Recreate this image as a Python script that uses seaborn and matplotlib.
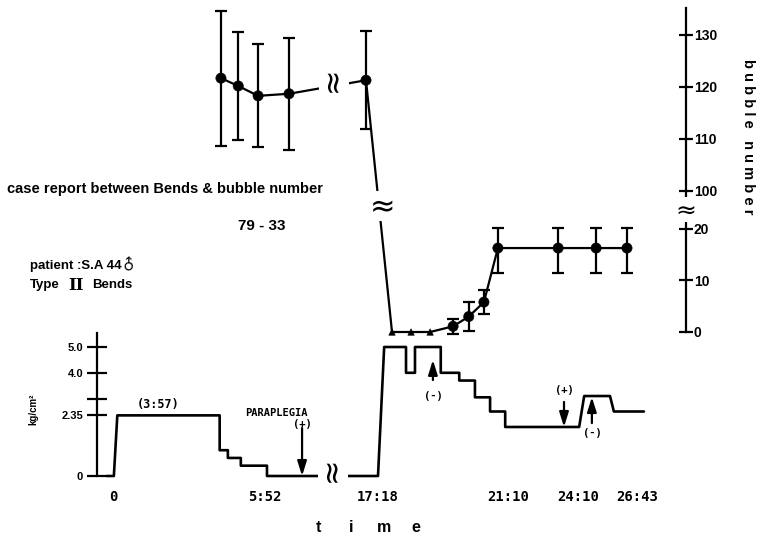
import numpy as np
import pandas as pd
import matplotlib
matplotlib.use('Agg')
from matplotlib import pyplot as plt
import seaborn as sns

W, H = 761, 543

# time in minutes after start of recompression
time_ticks = [0, 352, 1038, 1270, 1450, 1603]
time_labels = ['0', '5:52', '17:18', '21:10', '24:10', '26:43']
# the hand drawn time axis is uneven, keep where each tick sits (px)
time_px = [113, 265, 378, 508, 578, 637]

# chamber pressure (kg/cm2)
press_t = [-14, 2, 10, 247, 247, 266, 266, 296, 296, 364, 364, 1038, 1049, 1088, 1088,
           1104, 1104, 1150, 1150, 1183, 1183, 1211, 1211, 1238, 1238, 1265, 1265, 1453,
           1466, 1533, 1543, 1621]
press_v = [0, 0, 2.35, 2.35, 1.0, 1.0, 0.7, 0.7, 0.4, 0.4, 0, 0, 5.0, 5.0, 4.0,
           4.0, 5.0, 5.0, 4.0, 4.0, 3.7, 3.7, 3.05, 3.05, 2.5, 2.5, 1.9, 1.9,
           3.1, 3.1, 2.5, 2.5]
press_ticks = [0, 2.35, 3.0, 4.0, 5.0]
press_labels = ['0', '2.35', '', '4.0', '5.0']

# bubble number, mean and sd; 'none' = no bubbles (triangles)
bub_t = [250, 290, 336, 498, 965, 1063, 1097, 1131, 1172, 1200, 1227, 1252, 1399, 1497, 1577]
bub_v = [121.7, 120.2, 118.3, 118.7, 121.3, 0, 0, 0, 1.1, 3.0, 5.8, 16.3, 16.3, 16.3, 16.3]
bub_sd = [13.0, 10.3, 9.9, 10.8, 9.4, 0, 0, 0, 1.4, 2.9, 2.4, 4.9, 4.9, 4.9, 4.9]
bub_kind = ['mean'] * 5 + ['none'] * 3 + ['mean'] * 7
bubble_ticks = [0, 10, 20, 100, 110, 120, 130]
# broken bubble axis: value -> px from top
bub_anchor_v = [0, 20, 100, 130]
bub_anchor_px = [332, 229, 191, 35]

# symptoms and treatment marks on the pressure trace
arrow_t = [577, 1136, 1414, 1486]
arrow_from = [1.86, 3.72, 2.87, 2.05]
arrow_to = [0.0, 4.5, 1.9, 3.06]
sign_text = ['(+)', '(-)', '(+)', '(-)']
sign_v = [2.0, 3.1, 3.33, 1.67]


def piecewise(a, b):
    a = np.asarray(a, float)
    b = np.asarray(b, float)
    lo = (b[1] - b[0]) / (a[1] - a[0])
    hi = (b[-1] - b[-2]) / (a[-1] - a[-2])
    a = np.r_[a[0] - 1e5, a, a[-1] + 1e5]
    b = np.r_[b[0] - 1e5 * lo, b, b[-1] + 1e5 * hi]
    return (lambda x: np.interp(x, a, b)), (lambda y: np.interp(y, b, a))


t_fwd, t_inv = piecewise(time_ticks, time_px)
b_fwd, b_inv = piecewise(bub_anchor_v, H - np.array(bub_anchor_px))
P_SCALE = 25.8  # px per kg/cm2
P_ZERO = 476

sns.set_theme(style='ticks', rc={'axes.edgecolor': 'black', 'xtick.color': 'black',
                                 'ytick.color': 'black', 'text.color': 'black'})
plt.rcParams['font.family'] = ['Liberation Sans', 'DejaVu Sans']

fig = plt.figure(figsize=(W / 100, H / 100), dpi=100)
ax_p = fig.add_axes([0, 0, 1, 1])
ax_b = fig.add_axes([0, 0, 1, 1])
for ax in (ax_p, ax_b):
    ax.patch.set_alpha(0)
    for s in ax.spines.values():
        s.set_visible(False)

# pressure trace
sns.lineplot(x=press_t, y=press_v, sort=False, estimator=None, color='black',
             linewidth=1.9, ax=ax_p)
ax_p.set_xscale('function', functions=(t_fwd, t_inv))
ax_p.set_xlim(t_inv(0), t_inv(W))
ax_p.set_ylim(-(H - P_ZERO) / P_SCALE, P_ZERO / P_SCALE)
ax_p.set(xlabel='', ylabel='')
ax_p.set_xticks([])
sp = ax_p.spines['left']
sp.set_visible(True)
sp.set_position(('data', t_inv(97)))
sp.set_bounds(0, 5.54)
sp.set_linewidth(1.6)
ax_p.set_yticks(press_ticks, press_labels, fontweight='bold', fontsize=8)
ax_p.tick_params(axis='y', left=True, labelleft=True, direction='inout', length=14,
                 width=1.6, pad=3)

for t, lab in zip(time_ticks, time_labels):
    ax_p.text(t, -21 / P_SCALE, lab, ha='center', va='center', fontsize=10,
              fontweight='bold', family='DejaVu Sans Mono')

for t, a, b, s, sv in zip(arrow_t, arrow_from, arrow_to, sign_text, sign_v):
    ax_p.annotate('', xy=(t, b), xytext=(t, a),
                  arrowprops=dict(arrowstyle='-|>,head_length=0.8,head_width=0.25',
                                  color='black', lw=1.6, mutation_scale=11,
                                  shrinkA=0, shrinkB=0))
    ax_p.text(t, sv, s, ha='center', va='center', fontsize=7.5, fontweight='bold',
              family='DejaVu Sans Mono')

ax_p.text(104, 2.79, '(3:57)', ha='center', va='center', fontsize=8.5,
          fontweight='bold', family='DejaVu Sans Mono')
ax_p.text(422, 2.44, 'PARAPLEGIA', ha='center', va='center', fontsize=7.5,
          fontweight='bold', family='DejaVu Sans Mono')
ax_p.text(t_inv(33), 2.6, 'kg/cm²', rotation=90, ha='center', va='center',
          fontsize=7, fontweight='bold')

# bubble counts
bub = pd.DataFrame({'t': bub_t, 'v': bub_v, 'sd': bub_sd, 'kind': bub_kind})
sns.lineplot(data=bub, x='t', y='v', sort=False, estimator=None, color='black',
             linewidth=1.6, ax=ax_b)
m = bub['sd'] > 0
ax_b.errorbar(bub['t'][m], bub['v'][m], yerr=bub['sd'][m], fmt='none', ecolor='black',
              elinewidth=1.6, capsize=4.5, capthick=1.6)
sns.scatterplot(data=bub, x='t', y='v', style='kind', size='kind',
                markers={'mean': 'o', 'none': '^'}, sizes={'mean': 55, 'none': 22},
                color='black', edgecolor='black', legend=False, ax=ax_b, zorder=3)
ax_b.set_xscale('function', functions=(t_fwd, t_inv))
ax_b.set_xlim(t_inv(0), t_inv(W))
ax_b.set_yscale('function', functions=(b_fwd, b_inv))
ax_b.set_ylim(b_inv(0), b_inv(H))
ax_b.set(xlabel='', ylabel='')
ax_b.set_xticks([])
sp = ax_b.spines['right']
sp.set_visible(True)
sp.set_position(('data', t_inv(686)))
sp.set_bounds(0, 135.2)
sp.set_linewidth(1.6)
ax_b.set_yticks(bubble_ticks, [str(v) for v in bubble_ticks], fontweight='bold',
                fontsize=10)
ax_b.tick_params(axis='y', left=False, labelleft=False, right=True, labelright=True,
                 direction='inout', length=10, width=1.6, pad=0.5)

# axis / line breaks
brk = dict(ha='center', va='center', fontsize=22,
           bbox=dict(fc='white', ec='none', pad=0.3))
ax_b.text(771, np.interp(771, [498, 965], [118.7, 121.3]), r'$\approx$', rotation=90, **brk)
x_mid = t_inv((t_fwd(965) + t_fwd(1063)) / 2)
y_mid = b_inv((b_fwd(121.3) + b_fwd(0)) / 2)
ax_b.text(x_mid, y_mid, r'$\approx$', **brk)
ax_p.text(t_inv(333), 0, r'$\approx$', rotation=90, **brk)
brk['fontsize'] = 18
ax_b.text(t_inv(684), b_inv(H - 210), r'$\approx$', **brk)

ax_b.text(t_inv(748), b_inv(H - 137), 'b u b b l e   n u m b e r', rotation=-90,
          ha='center', va='center', fontsize=10.5, fontweight='bold')

fig.text(7 / W, 1 - 189 / H, 'case report between Bends & bubble number',
         ha='left', va='center', fontsize=10.5, fontweight='bold')
fig.text(262 / W, 1 - 226 / H, '79 - 33', ha='center', va='center', fontsize=11,
         fontweight='bold')
fig.text(30 / W, 1 - 266 / H, 'patient :S.A 44', ha='left', va='center', fontsize=9.5,
         fontweight='bold')
fig.text(129 / W, 1 - 264 / H, '♂', ha='center', va='center', fontsize=11,
         fontweight='bold', family='DejaVu Sans', rotation=45)
fig.text(30 / W, 1 - 285 / H, 'Type', ha='left', va='center', fontsize=9.5,
         fontweight='bold')
fig.text(68 / W, 1 - 285 / H, 'II', ha='left', va='center', fontsize=12,
         fontweight='bold', family='DejaVu Serif')
fig.text(92 / W, 1 - 285 / H, 'Bends', ha='left', va='center', fontsize=9.5,
         fontweight='bold')
for letter, xpx in zip('time', [318, 351, 384, 416]):
    fig.text(xpx / W, 1 - 527 / H, letter, ha='center', va='center', fontsize=11.5,
             fontweight='bold')

fig.savefig('out.png', dpi=100)
